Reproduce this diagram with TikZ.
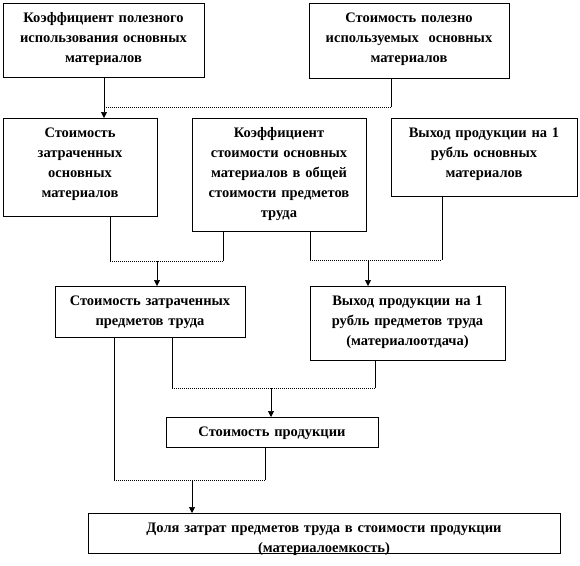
\documentclass[tikz,border=0pt]{standalone}
\usepackage{fontspec}
\setmainfont{Liberation Serif}
\usetikzlibrary{arrows.meta, shadows}
\tikzstyle{card} = [rectangle,
anchor=north,
draw=black,
line width=0.6pt,
fill=white,
align=center,
inner xsep=3pt,
inner ysep=0pt,
text height=19.5pt,
font=\fontsize{14.5}{20}\selectfont\bfseries,
drop shadow={shadow xshift=1pt, shadow yshift=-1pt, fill=black!70, opacity=1}]
\tikzstyle{arrow} = [line width=0.7pt, -{Triangle[width=6pt,length=6pt]}]
\tikzstyle{wire} = [line width=0.7pt]
\tikzstyle{link} = [line width=0.7pt, dash pattern=on 1pt off 1pt]

\begin{document}
\begin{tikzpicture}[x=1pt, y=-1pt]
            \useasboundingbox (0,0) rectangle (580,565);
            % row 1
            \node (koef1) [card, text width=195pt, text depth=54.5pt] at (103.5,3) {Коэффициент полезного\\ использования основных\\ материалов};
            \node (stpol) [card, text width=194pt, text depth=55.5pt] at (409,3) {Стоимость полезно\\ используемых~ основных\\ материалов};
            % row 2
            \node (stzat) [card, text width=148pt, text depth=78.5pt] at (80,118) {Стоимость\\ затраченных\\ основных\\ материалов};
            \node (koef2) [card, text width=168pt, text depth=93.5pt] at (279,118) {Коэффициент\\ стоимости основных\\ материалов в общей\\ стоимости предметов\\ труда};
            \node (vyh1) [card, text width=180pt, text depth=58.5pt] at (484,118) {Выход продукции на 1\\ рубль основных\\ материалов};
            % row 3
            \node (stpred) [card, text width=184pt, text depth=31.5pt] at (150,286) {Стоимость затраченных\\ предметов труда};
            \node (vyh2) [card, text width=189pt, text depth=54.5pt] at (407.5,286) {Выход продукции на 1\\ рубль предметов труда\\ (материалоотдача)};
            % row 4
            \node (stprod) [card, text width=206pt, text depth=10.5pt] at (272,417) {Стоимость продукции};
            \node (dolya) [card, text width=466pt, text depth=20.5pt] at (324,513) {Доля затрат предметов труда в стоимости продукции\\ (материалоемкость)};

            % joints
            \coordinate (j1) at (391,107);
            \coordinate (j2a) at (110,261);
            \coordinate (j2b) at (223,261);
            \coordinate (j2c) at (157,261);
            \coordinate (j3a) at (310,260);
            \coordinate (j3b) at (442,260);
            \coordinate (j3c) at (368,260);
            \coordinate (j4a) at (172,388);
            \coordinate (j4b) at (375,388);
            \coordinate (j4c) at (271,388);
            \coordinate (j5a) at (114,480);
            \coordinate (j5b) at (265,480);
            \coordinate (j5c) at (192,480);

            \draw [arrow] ([xshift=0.5pt]koef1.south) -- ([xshift=0.5pt]koef1.south |- stzat.north);
            \draw [wire] (stpol.south -| j1) -- (j1);
            \draw [link] (j1) -- (j1 -| koef1.south);

            \draw [wire] (stzat.south -| j2a) -- (j2a);
            \draw [wire] (koef2.south -| j2b) -- (j2b);
            \draw [link] (j2a) -- (j2b);
            \draw [arrow] (j2c) -- (j2c |- stpred.north);

            \draw [wire] (koef2.south -| j3a) -- (j3a);
            \draw [wire] (vyh1.south -| j3b) -- (j3b);
            \draw [link] (j3a) -- (j3b);
            \draw [arrow] (j3c) -- (j3c |- vyh2.north);

            \draw [wire] (stpred.south -| j4a) -- (j4a);
            \draw [wire] (vyh2.south -| j4b) -- (j4b);
            \draw [link] (j4a) -- (j4b);
            \draw [arrow] (j4c) -- (j4c |- stprod.north);

            \draw [wire] (stpred.south -| j5a) -- (j5a);
            \draw [wire] (stprod.south -| j5b) -- (j5b);
            \draw [link] (j5a) -- (j5b);
            \draw [arrow] (j5c) -- (j5c |- dolya.north);
\end{tikzpicture}
\end{document}
